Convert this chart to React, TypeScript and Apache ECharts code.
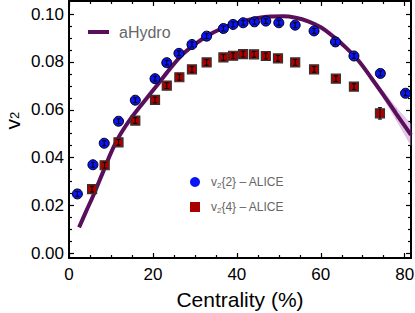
import React, { useEffect, useRef } from "react";
import * as echarts from "echarts";

// ---- data ----
const blueX = [2.0, 5.7, 8.4, 11.8, 15.8, 20.5, 23.3, 26.2, 29.3, 32.8, 36.8, 39.1, 41.5, 44.2, 46.9, 50.0, 53.9, 58.4, 63.5, 67.9, 74.2, 80.2];
const blueY = [0.0248, 0.037, 0.046, 0.0552, 0.064, 0.073, 0.0797, 0.0836, 0.0873, 0.0908, 0.094, 0.0957, 0.0964, 0.0968, 0.0971, 0.0964, 0.0954, 0.093, 0.0884, 0.0825, 0.0752, 0.0669];
const blueErr = [0.001, 0.001, 0.001, 0.001, 0.001, 0.001, 0.001, 0.001, 0.001, 0.001, 0.001, 0.001, 0.001, 0.001, 0.001, 0.001, 0.001, 0.001, 0.001, 0.001, 0.001, 0.001];

const redX = [5.5, 8.5, 11.8, 15.8, 20.5, 23.3, 26.3, 29.3, 32.8, 36.8, 39.1, 41.5, 44.1, 46.9, 49.8, 53.9, 58.4, 63.6, 67.9, 74.1];
const redY = [0.0268, 0.0368, 0.0464, 0.0555, 0.0641, 0.0701, 0.0736, 0.0769, 0.0798, 0.0819, 0.0826, 0.0833, 0.0832, 0.0825, 0.0815, 0.0798, 0.0769, 0.073, 0.0697, 0.0585];
const redErr = [0.0012, 0.0012, 0.0012, 0.0012, 0.0012, 0.0012, 0.0012, 0.0012, 0.0012, 0.0012, 0.0012, 0.0012, 0.0012, 0.0012, 0.0012, 0.0012, 0.0012, 0.0012, 0.0012, 0.0024];

const hydroX = [2.4, 4, 6, 8, 10, 12, 15, 18, 21, 24, 27, 30, 33, 36, 39, 42, 45, 48, 51, 54, 57, 60, 63, 66, 69, 72, 75, 78, 81.5];
const hydroY = [0.0108, 0.0172, 0.025, 0.0335, 0.042, 0.049, 0.057, 0.0637, 0.0703, 0.077, 0.0831, 0.0874, 0.091, 0.0937, 0.0957, 0.0973, 0.0984, 0.099, 0.0991, 0.0985, 0.097, 0.0945, 0.0906, 0.086, 0.0805, 0.0734, 0.066, 0.0583, 0.0495];

const bandX = [66, 69, 72, 75, 78, 81.5];
const bandMid = [0.086, 0.0805, 0.0734, 0.066, 0.0583, 0.0495];
const bandHalf = [0.0, 0.0003, 0.0008, 0.0015, 0.0026, 0.0045];

const xMajor = [0, 20, 40, 60, 80];
const xMinor = [5, 10, 15, 25, 30, 35, 45, 50, 55, 65, 70, 75];
const yMajor = [0, 0.02, 0.04, 0.06, 0.08, 0.1];
const yMinor = [0.005, 0.01, 0.015, 0.025, 0.03, 0.035, 0.045, 0.05, 0.055, 0.065, 0.07, 0.075, 0.085, 0.09, 0.095];

const X_MIN = 0;
const X_MAX = 81.5;
const Y_MIN = -0.002;
const Y_MAX = 0.1055;

const NAME_V2 = "v2{2} – ALICE";
const NAME_V4 = "v2{4} – ALICE";

const FONT = "'Liberation Sans', Arial, sans-serif";

export default function App() {
  const ref = useRef<HTMLDivElement>(null);

  useEffect(() => {
    if (!ref.current) return;
    const chart = echarts.init(ref.current, undefined, { renderer: "svg" });

    const mkX = (position: string, ticks: number[], len: number, line: boolean, labels: boolean) => ({
      type: "value",
      position,
      min: X_MIN,
      max: X_MAX,
      splitLine: { show: false },
      axisLine: { show: line, onZero: false, lineStyle: { color: "#000", width: 2 } },
      axisTick: { show: true, inside: true, length: len, customValues: ticks, lineStyle: { color: "#000", width: 1.2 } },
      axisLabel: labels
        ? { show: true, customValues: xMajor, margin: 8, fontSize: 17, color: "#000", fontFamily: FONT }
        : { show: false },
      ...(labels
        ? {
            name: "Centrality (%)",
            nameLocation: "middle",
            nameGap: 31,
            nameTextStyle: { fontSize: 21, color: "#000", fontFamily: FONT },
          }
        : {}),
    });

    const mkY = (position: string, ticks: number[], len: number, line: boolean, labels: boolean) => ({
      type: "value",
      position,
      min: Y_MIN,
      max: Y_MAX,
      splitLine: { show: false },
      axisLine: { show: line, onZero: false, lineStyle: { color: "#000", width: 2 } },
      axisTick: { show: true, inside: true, length: len, customValues: ticks, lineStyle: { color: "#000", width: 1.2 } },
      axisLabel: labels
        ? {
            show: true,
            customValues: yMajor,
            margin: 5,
            fontSize: 17,
            color: "#000",
            fontFamily: FONT,
            formatter: (v: number) => v.toFixed(2),
          }
        : { show: false },
      ...(labels
        ? {
            name: "{v|v}{s|2}",
            nameLocation: "middle",
            nameRotate: 90,
            nameGap: 48,
            nameMoveOverlap: false,
            nameTextStyle: {
              color: "#000",
              fontFamily: FONT,
              padding: [0, 0, 0, 18],
              rich: {
                v: { fontSize: 21, fontFamily: FONT, color: "#000", lineHeight: 18 },
                s: { fontSize: 13, fontFamily: FONT, color: "#000", verticalAlign: "bottom", lineHeight: 14 },
              },
            },
          }
        : {}),
    });

    const errRender = (params: any, api: any) => {
      const x = api.value(0);
      const y = api.value(1);
      const e = api.value(2);
      const lo = api.coord([x, y - e]);
      const hi = api.coord([x, y + e]);
      const w = 2;
      const style = { stroke: "#000", lineWidth: 1 };
      return {
        type: "group",
        children: [
          { type: "line", shape: { x1: lo[0], y1: lo[1], x2: hi[0], y2: hi[1] }, style },
          { type: "line", shape: { x1: lo[0] - w, y1: lo[1], x2: lo[0] + w, y2: lo[1] }, style },
          { type: "line", shape: { x1: hi[0] - w, y1: hi[1], x2: hi[0] + w, y2: hi[1] }, style },
        ],
      };
    };

    const bandRender = (params: any, api: any) => {
      const i = params.dataIndex;
      if (i >= bandX.length - 1) return { type: "group", children: [] };
      const a1 = api.coord([bandX[i], bandMid[i] + bandHalf[i]]);
      const b1 = api.coord([bandX[i + 1], bandMid[i + 1] + bandHalf[i + 1]]);
      const b2 = api.coord([bandX[i + 1], bandMid[i + 1] - bandHalf[i + 1]]);
      const a2 = api.coord([bandX[i], bandMid[i] - bandHalf[i]]);
      return {
        type: "polygon",
        shape: { points: [a1, b1, b2, a2] },
        style: { fill: "rgba(190,130,200,0.45)", stroke: "rgba(190,130,200,0.45)", lineWidth: 0.5 },
      };
    };

    const richLegend = {
      v: { fontSize: 12, color: "#666", fontFamily: FONT, lineHeight: 14 },
      s: { fontSize: 8, color: "#666", fontFamily: FONT, verticalAlign: "bottom", lineHeight: 11 },
    };

    chart.setOption({
      animation: false,
      backgroundColor: "#fff",
      grid: { left: 69, right: 4, top: 1, bottom: 55, containLabel: false, outerBoundsMode: "none" },
      xAxis: [
        mkX("bottom", xMajor, 5, true, true),
        mkX("bottom", xMinor, 3, false, false),
        mkX("top", xMajor, 5, true, false),
        mkX("top", xMinor, 3, false, false),
      ],
      yAxis: [
        mkY("left", yMajor, 5, true, true),
        mkY("left", yMinor, 3, false, false),
        mkY("right", yMajor, 5, true, false),
        mkY("right", yMinor, 3, false, false),
      ],
      legend: [
        {
          data: [{ name: "aHydro", icon: "rect" }],
          left: 88,
          top: 24,
          padding: 0,
          itemWidth: 21,
          itemHeight: 4,
          textStyle: { fontSize: 16, color: "#666", fontFamily: FONT, padding: [0, 0, 0, 5] },
        },
        {
          data: [NAME_V2, NAME_V4],
          orient: "vertical",
          left: 190,
          top: 176,
          padding: 0,
          itemGap: 12,
          itemWidth: 10,
          itemHeight: 10,
          itemStyle: { borderWidth: 0 },
          formatter: (name: string) => "{v|v}{s|2}" + name.slice(2),
          textStyle: { fontSize: 12, color: "#666", fontFamily: FONT, padding: [0, 0, 0, 6], rich: richLegend },
        },
      ],
      series: [
        {
          type: "custom",
          name: "band",
          renderItem: bandRender,
          data: bandX.map((x, i) => [x, bandMid[i]]),
          z: 1,
          silent: true,
        },
        {
          type: "line",
          name: "aHydro",
          data: hydroX.map((x, i) => [x, hydroY[i]]),
          smooth: 0.35,
          symbol: "none",
          lineStyle: { color: "#5a0f5c", width: 4 },
          itemStyle: { color: "#5a0f5c" },
          z: 2,
        },
        {
          type: "scatter",
          name: NAME_V2,
          data: blueX.map((x, i) => [x, blueY[i]]),
          symbol: "circle",
          symbolSize: 10,
          itemStyle: { color: "#0a14f5", borderColor: "#000", borderWidth: 1, opacity: 1 },
          z: 3,
        },
        {
          type: "scatter",
          name: NAME_V4,
          data: redX.map((x, i) => [x, redY[i]]),
          symbol: "rect",
          symbolSize: 9,
          itemStyle: { color: "#aa0000", borderColor: "#333", borderWidth: 1.2, opacity: 1 },
          z: 3,
        },
        {
          type: "custom",
          name: "errV2",
          renderItem: errRender,
          data: blueX.map((x, i) => [x, blueY[i], blueErr[i]]),
          z: 4,
          silent: true,
        },
        {
          type: "custom",
          name: "errV4",
          renderItem: errRender,
          data: redX.map((x, i) => [x, redY[i], redErr[i]]),
          z: 4,
          silent: true,
        },
      ],
    });

    return () => chart.dispose();
  }, []);

  return <div ref={ref} style={{ width: 415, height: 313, position: "absolute", left: 0, top: 0 }} />;
}
